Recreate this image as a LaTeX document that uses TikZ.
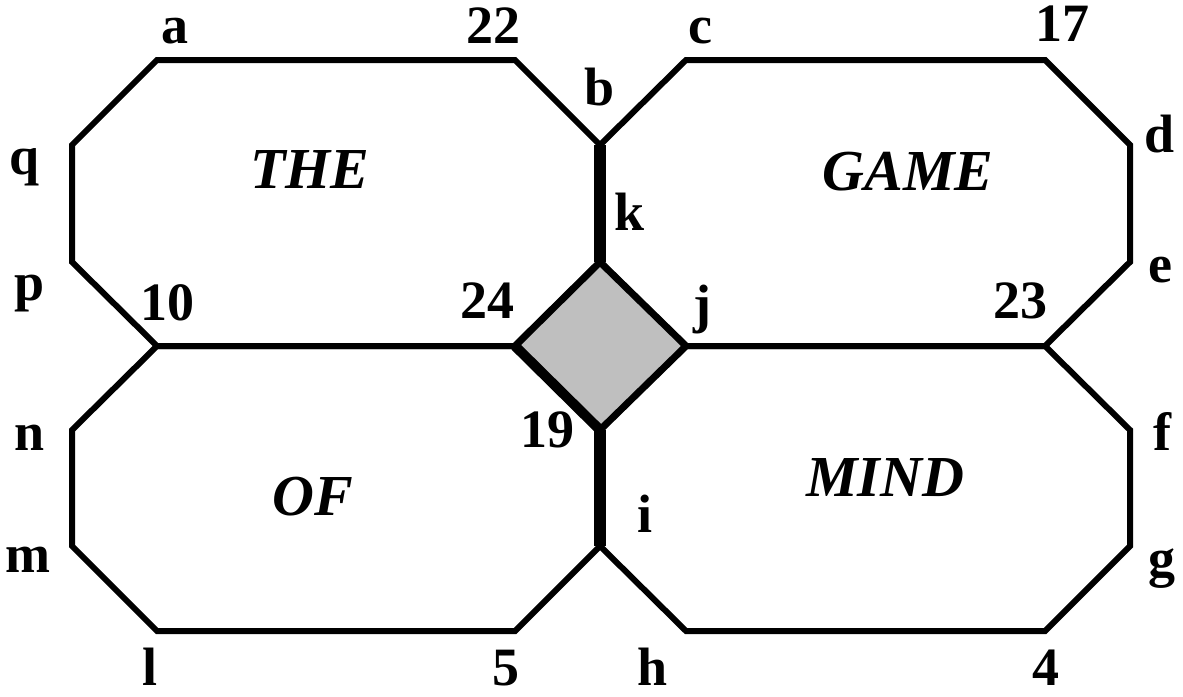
\documentclass[tikz,border=0pt]{standalone}
\usepackage{fontspec}
\setmainfont{Liberation Serif}
\usepackage{tikz}
\usetikzlibrary{positioning, calc}

\begin{document}
\begin{tikzpicture}[x=0.5pt, y=-0.5pt,
    octline/.style={draw, line width=3pt, line join=miter},
    barline/.style={line width=6pt},
    diamondbox/.style={draw, fill=black!25, line width=3.5pt, line join=miter},
    vlabel/.style={font=\fontsize{27}{29}\selectfont\bfseries, anchor=base, inner sep=0pt},
    word/.style={font=\fontsize{29}{31}\selectfont\bfseries\itshape, inner sep=0pt}
]
\useasboundingbox (0,0) rectangle (1183,696);

% Corner points shared by the four octagons
\coordinate (kt) at (600,145);
\coordinate (dn) at (600,262);
\coordinate (de) at (686,346);
\coordinate (ds) at (600,430);
\coordinate (dw) at (515,346);
\coordinate (it) at (600,546);

% Four octagons
\draw[octline] (157,60) -- (515,60) -- (kt) -- (dn) -- (dw) -- (157,346) -- (72,262) -- (72,145) -- cycle;
\draw[octline] (686,60) -- (1045,60) -- (1130,145) -- (1130,262) -- (1045,346) -- (de) -- (dn) -- (kt) -- cycle;
\draw[octline] (157,346) -- (dw) -- (ds) -- (it) -- (515,631) -- (157,631) -- (72,546) -- (72,430) -- cycle;
\draw[octline] (de) -- (1045,346) -- (1130,430) -- (1130,546) -- (1045,631) -- (686,631) -- (it) -- (ds) -- cycle;

% Centre square and heavy walls
\draw[diamondbox] (dn) -- (de) -- (ds) -- (dw) -- cycle;
\draw[line width=5pt] (dw) -- (ds);
\draw[barline] (kt) -- (dn);
\draw[barline] (ds) -- (it);

% Words
\node[word] (the) at (310,170) {THE};
\node[word] (game) at (908,172) {GAME};
\node[word] (of) at (313,497) {OF};
\node[word] (mind) at (885,478) {MIND};

% Corner labels
\node[vlabel] (la) at (175,43) {a};
\node[vlabel] (l22) at (493,43) {22};
\node[vlabel] (lc) at (700,43) {c};
\node[vlabel] (l17) at (1062,41) {17};
\node[vlabel] (lb) at (600,105) {b};
\node[vlabel] (ld) at (1160,152) {d};
\node[vlabel] (lq) at (25,174) {q};
\node[vlabel] (lk) at (630,230) {k};
\node[vlabel] (lp) at (30,300) {p};
\node[vlabel] (le) at (1160,282) {e};
\node[vlabel] (l10) at (167,320) {10};
\node[vlabel] (l24) at (487,318) {24};
\node[vlabel] (lj) at (702,322) {j};
\node[vlabel] (l23) at (1020,318) {23};
\node[vlabel] (ln) at (30,450) {n};
\node[vlabel] (l19) at (547,447) {19};
\node[vlabel] (lf) at (1162,450) {f};
\node[vlabel] (li) at (645,532) {i};
\node[vlabel] (lm) at (28,572) {m};
\node[vlabel] (lg) at (1162,576) {g};
\node[vlabel] (ll) at (150,685) {l};
\node[vlabel] (l5) at (506,685) {5};
\node[vlabel] (lh) at (653,685) {h};
\node[vlabel] (l4) at (1046,685) {4};
\end{tikzpicture}
\end{document}
